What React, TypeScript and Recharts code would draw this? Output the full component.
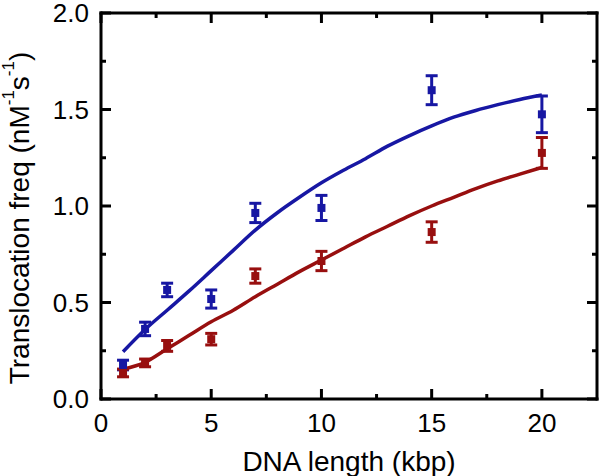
import React from 'react';
import { ComposedChart, Line, Scatter, XAxis, YAxis, ErrorBar } from 'recharts';

const lengths = [1, 2, 3, 5, 7, 10, 15, 20];
const blueMeans = [0.176, 0.363, 0.565, 0.518, 0.964, 0.99, 1.6, 1.475];
const blueErrs = [0.025, 0.035, 0.035, 0.047, 0.05, 0.065, 0.075, 0.095];
const redMeans = [0.135, 0.187, 0.275, 0.31, 0.637, 0.715, 0.865, 1.275];
const redErrs = [0.02, 0.02, 0.028, 0.03, 0.037, 0.05, 0.053, 0.08];

const fitX = [1, 2, 3, 4, 5, 6, 7, 8, 9, 10, 11, 12, 13, 14, 15, 16, 17, 18, 19, 20];
const blueFit = [0.245, 0.36, 0.46, 0.56, 0.665, 0.77, 0.875, 0.965, 1.045, 1.12, 1.185, 1.245, 1.31, 1.365, 1.415, 1.46, 1.495, 1.525, 1.552, 1.575];
const redFit = [0.155, 0.19, 0.26, 0.33, 0.4, 0.46, 0.53, 0.595, 0.66, 0.72, 0.78, 0.84, 0.895, 0.95, 1.0, 1.045, 1.09, 1.13, 1.165, 1.2];

const xMajor = [0, 5, 10, 15, 20];
const xTicks = [0, 2.5, 5, 7.5, 10, 12.5, 15, 17.5, 20];
const yMajor = [0, 0.5, 1, 1.5, 2];
const yTicks = [0, 0.25, 0.5, 0.75, 1, 1.25, 1.5, 1.75, 2];

const BLUE = '#1717a3';
const RED = '#980f0f';
const FONT = '"Liberation Sans", Arial, sans-serif';

const bluePoints = lengths.map((x, i) => ({ x, y: blueMeans[i], err: blueErrs[i] }));
const redPoints = lengths.map((x, i) => ({ x, y: redMeans[i], err: redErrs[i] }));
const blueCurve = fitX.map((x, i) => ({ x, y: blueFit[i] }));
const redCurve = fitX.map((x, i) => ({ x, y: redFit[i] }));

const isMajor = (arr: number[], v: number) => arr.some((m) => Math.abs(m - v) < 1e-9);

const BottomTick = (props: any) => {
  const { x, y, payload } = props;
  const v = payload.value;
  const major = isMajor(xMajor, v);
  return (
    <g>
      <line x1={x} x2={x} y1={y} y2={y - (major ? 10 : 5)} stroke="#000" strokeWidth={3} />
      {major && (
        <text x={x} y={y + 33} textAnchor="middle" fontSize={26} fontFamily={FONT} fill="#000">
          {v}
        </text>
      )}
    </g>
  );
};

const TopTick = (props: any) => {
  const { x, y, payload } = props;
  const major = isMajor(xMajor, payload.value);
  return <line x1={x} x2={x} y1={y} y2={y + (major ? 10 : 5)} stroke="#000" strokeWidth={3} />;
};

const LeftTick = (props: any) => {
  const { x, y, payload } = props;
  const v = payload.value;
  const major = isMajor(yMajor, v);
  return (
    <g>
      <line x1={x} x2={x + (major ? 10 : 5)} y1={y} y2={y} stroke="#000" strokeWidth={3} />
      {major && (
        <text x={x - 12} y={y} dy="0.36em" textAnchor="end" fontSize={26} fontFamily={FONT} fill="#000">
          {v.toFixed(1)}
        </text>
      )}
    </g>
  );
};

const RightTick = (props: any) => {
  const { x, y, payload } = props;
  const major = isMajor(yMajor, payload.value);
  return <line x1={x} x2={x - (major ? 10 : 5)} y1={y} y2={y} stroke="#000" strokeWidth={3} />;
};

const Square = (color: string) => (props: any) => {
  const { cx, cy } = props;
  if (cx == null || cy == null) return <g />;
  return <rect x={cx - 4} y={cy - 4} width={8} height={8} fill={color} />;
};

const YTitle = () => {
  const cy = 218;
  const cx = 19;
  return (
    <text
      x={cx}
      y={cy}
      transform={`rotate(-90 ${cx} ${cy})`}
      textAnchor="middle"
      dominantBaseline="central"
      fontSize={28}
      fontFamily={FONT}
      fill="#000"
    >
      Translocation freq (nM
      <tspan fontSize={17} dy={-11}>-1</tspan>
      <tspan dy={11}>s</tspan>
      <tspan fontSize={17} dy={-11}>-1</tspan>
      <tspan dy={11}>)</tspan>
    </text>
  );
};

const XTitle = (props: any) => {
  const vb = props.viewBox || { x: 101, y: 399, width: 496, height: 77 };
  const cx = vb.x + vb.width / 2;
  return (
    <text x={cx} y={471} textAnchor="middle" fontSize={28} fontFamily={FONT} fill="#000">
      DNA length (kbp)
    </text>
  );
};

const axisLineStyle = { stroke: '#000', strokeWidth: 3, strokeLinecap: 'square' as const };

export default function App() {
  return (
    <div style={{ position: 'absolute', left: 0, top: 0, width: 600, height: 476, background: '#fff' }}>
      <ComposedChart width={600} height={476} margin={{ top: 0, right: 0, bottom: 0, left: 0 }}>
        <XAxis
          type="number"
          dataKey="x"
          domain={[0, 22.5]}
          ticks={xTicks}
          interval={0}
          allowDataOverflow
          height={77}
          tickSize={0}
          tickMargin={0}
          tickLine={false}
          axisLine={axisLineStyle}
          tick={<BottomTick />}
          label={{ content: (p: any) => <XTitle {...p} /> }}
        />
        <XAxis
          xAxisId="top"
          orientation="top"
          type="number"
          dataKey="x"
          domain={[0, 22.5]}
          ticks={xTicks}
          interval={0}
          allowDataOverflow
          height={13}
          tickSize={0}
          tickMargin={0}
          tickLine={false}
          axisLine={axisLineStyle}
          tick={<TopTick />}
        />
        <YAxis
          type="number"
          domain={[0, 2]}
          ticks={yTicks}
          interval={0}
          allowDataOverflow
          width={101}
          tickSize={0}
          tickMargin={0}
          tickLine={false}
          axisLine={axisLineStyle}
          tick={<LeftTick />}
          label={{ content: () => <YTitle /> }}
        />
        <YAxis
          yAxisId="right"
          orientation="right"
          type="number"
          domain={[0, 2]}
          ticks={yTicks}
          interval={0}
          allowDataOverflow
          width={3}
          tickSize={0}
          tickMargin={0}
          tickLine={false}
          axisLine={axisLineStyle}
          tick={<RightTick />}
        />
        <Line data={blueCurve} dataKey="y" type="monotone" stroke={BLUE} strokeWidth={3.5} dot={false} isAnimationActive={false} />
        <Line data={redCurve} dataKey="y" type="monotone" stroke={RED} strokeWidth={3.5} dot={false} isAnimationActive={false} />
        <Scatter data={bluePoints} dataKey="y" fill={BLUE} shape={Square(BLUE)} isAnimationActive={false}>
          <ErrorBar dataKey="err" direction="y" width={6} strokeWidth={3} stroke={BLUE} />
        </Scatter>
        <Scatter data={redPoints} dataKey="y" fill={RED} shape={Square(RED)} isAnimationActive={false}>
          <ErrorBar dataKey="err" direction="y" width={6} strokeWidth={3} stroke={RED} />
        </Scatter>
      </ComposedChart>
    </div>
  );
}
